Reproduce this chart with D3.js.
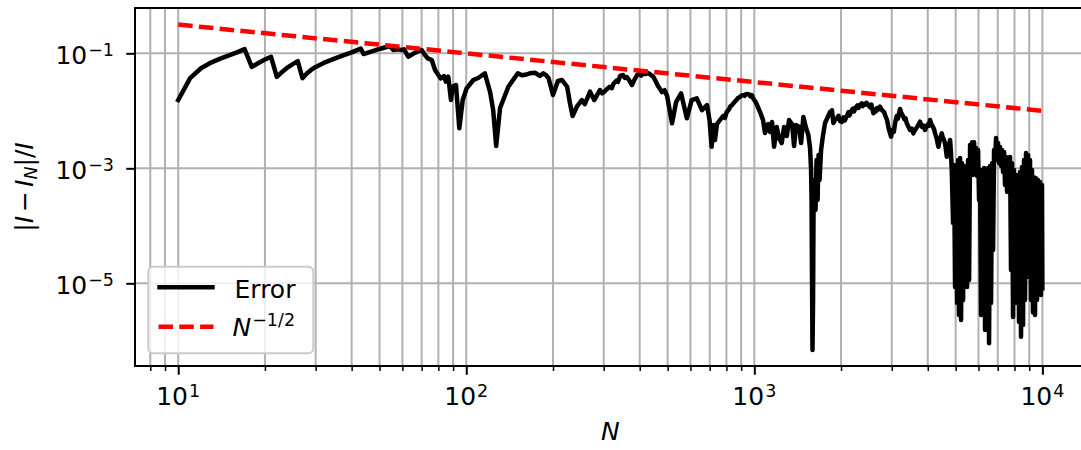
<!DOCTYPE html>
<html><head><meta charset="utf-8">
<script src="https://cdn.jsdelivr.net/npm/d3@7"></script>
<style>body{margin:0;background:#fff} svg{display:block} text{font-family:"DejaVu Sans",sans-serif}</style>
</head><body>
<script>
// ---- data (N, |I-I_N|/I) ----
const errorSeries = [
[10,0.0154],[11,0.037],[12,0.055],[13,0.069],[14,0.081],[15,0.092],[16,0.104],[17,0.118],[18,0.058],[19,0.068],[20,0.078],[21,0.087],[22,0.039],[23,0.048],[24,0.057],[25,0.065],[26,0.073],[27,0.037],[28,0.045],[29,0.052],[30,0.058],[32,0.068],[34,0.077],[36,0.086],[38,0.095],[40,0.104],[43,0.121],[44,0.097],[47,0.108],[50,0.119],[54.3,0.134],[55.8,0.114],[58,0.117],[59.7,0.114],[60.8,0.117],[62.9,0.0873],[66,0.101],[70,0.114],[71.9,0.0934],[73.5,0.0818],[75.9,0.0765],[77.9,0.0512],[80,0.0419],[81.5,0.0367],[83.7,0.0403],[85,0.0321],[86.6,0.0392],[88.5,0.0154],[89.7,0.0262],[92.1,0.0281],[94.6,0.00496],[97.2,0.0154],[100.3,0.0246],[105.8,0.0343],
[110,0.0372],[116,0.0449],[121,0.0212],[124,0.0103],[127,0.00244],[131,0.0112],[140,0.0262],[151,0.0449],[156,0.0415],[162,0.0428],[167,0.0452],[173,0.046],[177,0.0428],[180,0.0403],[185,0.0449],[189,0.0418],[193,0.0372],[200,0.0188],[208,0.033],[215,0.0343],[224,0.0262],[229,0.0137],[234,0.00812],[242,0.0118],[252,0.0154],[258,0.0131],[269,0.0215],[278,0.0154],[291,0.023],[296,0.0201],[301,0.0212],[308,0.0239],[315,0.0262],[320,0.0248],[324,0.0292],[332,0.0335],[336,0.0318],[342,0.0403],[350,0.0419],[355,0.0374],[361,0.0387],[368,0.0338],[376,0.0281],[384,0.0352],[392,0.0419],[400,0.0445],[405,0.041],[411,0.0454],[420,0.0436],[428,0.0454],[436,0.0425],[446,0.0392],[455,0.0323],[463,0.027],[470,0.0243],[478,0.0212],[488,0.0228],[498,0.0181],[518,0.00606],[535,0.0142],[557,0.0201],[583,0.0074],[606,0.0154],[631,0.0165],[658,0.0103],[685,0.0126],[699,0.00692],[711,0.00237],[722,0.00566],[730,0.00311],[742,0.00589],[760,0.00692],[780,0.0082],[790,0.0075],[802,0.00953],[815,0.0104],[825,0.0119],[835,0.0124],[846,0.0135],[860,0.0148],[870,0.0158],[878,0.0167],[890,0.0173],[900,0.0183],[916,0.0188],[925,0.0182],[935,0.0195],[943,0.0196],[960,0.0192],[970,0.0178],[980,0.0188],[995,0.0158],[1005,0.0149],
[1019,0.0131],[1047,0.00953],[1072,0.00692],[1089,0.00411],[1116,0.00589],[1134,0.00428],[1152,0.00639],[1171,0.00237],[1196,0.00523],[1218,0.00336],[1245,0.00275],[1268,0.00523],[1296,0.00365],[1320,0.00692],[1352,0.00589],[1374,0.00244],[1396,0.00566],[1430,0.00523],[1453,0.00275],[1480,0.0078],[1512,0.00502],[1540,0.00379],[1561,0.00225],[1574,0.000934],[1580,0.000281],[1586,1.14e-5],[1592,6.9e-7],[1599,5.1e-6],[1605,0.000167],[1618,0.000626],[1631,0.000188],[1644,0.00139],[1658,0.000281],[1671,0.0017],[1684,0.000626],[1705,0.00208],[1732,0.00379],[1760,0.00614],[1832,0.00953],[1850,0.0085],[1860,0.0102],[1881,0.00614],[1900,0.0068],[1938,0.0075],[1960,0.0082],[1985,0.0066],[2012,0.00639],[2040,0.0077],[2060,0.0068],[2094,0.00812],[2120,0.0094],[2140,0.0083],[2179,0.0103],[2200,0.0109],[2220,0.0098],[2255,0.01165],[2280,0.0124],[2300,0.0112],[2328,0.0126],[2360,0.0134],[2380,0.0121],[2404,0.0131],[2430,0.0128],[2450,0.0138],[2488,0.0126],[2520,0.0115],[2550,0.0128],[2590,0.00905],[2620,0.0104],[2640,0.0097],[2667,0.0112],[2700,0.0106],[2732,0.0118],[2770,0.0104],[2821,0.00953],[2850,0.0082],[2889,0.00692],[2930,0.0048],[2983,0.00355],[3020,0.0047],[3050,0.0043],[3080,0.00606],[3120,0.0081],[3150,0.0073],[3205,0.01075],[3240,0.0091],[3283,0.00812],[3320,0.0071],[3350,0.0074],[3382,0.00606],[3420,0.0054],[3472,0.00464],[3520,0.0049],[3565,0.00406],[3620,0.0047],[3672,0.00523],[3720,0.0058],[3761,0.00646],[3790,0.0057],[3822,0.00523],[3870,0.0055],[3914,0.00464],[3960,0.0053],[4010,0.00589],[4040,0.0055],[4075,0.00692],[4120,0.0058],[4174,0.00523],[4210,0.0047],[4241,0.00406],[4290,0.0034],[4355,0.00237],[4400,0.0031],[4474,0.00406],[4510,0.0034],[4557,0.00311],[4600,0.0026],[4657,0.00159],[4705,0.00208],[4740,0.0026],[4781,0.00311],[4815,0.0019],[4847,0.000873],
[4897,0.000112],[4936,0.00114],[4976,8.6e-6],[5016,0.00101],[5056,4.55e-6],[5097,0.00139],[5138,2.81e-6],[5179,0.00151],[5220,2.3e-6],[5262,0.00123],[5305,5.1e-6],[5347,0.0011],[5390,1.02e-5],[5433,0.00105],[5477,8.6e-6],[5521,0.00139],[5565,1.14e-5],[5610,0.00254],[5655,0.00086],[5700,0.00283],[5746,0.000765],[5792,0.00283],[5838,0.000934],[5885,0.00226],[5932,0.00074],[5980,0.00208],[6028,0.000281],[6076,0.000934],[6125,2.81e-6],[6174,0.00086],[6224,4.2e-6],[6274,0.00101],[6324,1.54e-6],[6375,0.000934],[6426,2.3e-6],[6477,0.00101],[6529,9.1e-7],[6582,0.0011],[6634,4.55e-6],[6688,0.00123],[6741,3.79e-5],[6795,0.00208],[6850,0.00139],[6905,0.00336],[6960,0.00151],[7016,0.00275],[7072,0.00123],[7129,0.00234],[7186,0.0011],[7244,0.00208],[7302,0.00086],[7360,0.00192],[7419,0.000512],[7479,0.00157],[7539,0.00039],[7599,0.00151],[7660,0.000626],[7722,0.00157],[7783,1.7e-5],[7846,0.00123],[7909,2.6e-6],[7972,0.000934],[8036,5.12e-6],[8100,0.000765],[8165,4.55e-6],[8231,0.0007],[8297,2.13e-6],[8363,0.00086],[8430,1.18e-6],[8498,0.00105],[8566,1.88e-6],[8635,0.00139],[8704,5.12e-6],[8774,0.00184],[8844,1.29e-5],[8915,0.0017],[8987,0.000512],[9059,0.00139],[9131,5.12e-6],[9204,0.000934],[9278,3.1e-6],[9353,0.0007],[9428,2.81e-6],[9504,0.00067],[9580,5.12e-6],[9657,0.000626],[9734,7.1e-6],[9812,0.00058],[9890,6.26e-6],[9970,0.000512],[10000,8.2e-6]
];
const refN = [10, 10000];
const refE = [0.316, 0.01];
const xMajorTicks = [10, 100, 1000, 10000];
const xTickExp = ["1", "2", "3", "4"];
const yMajorTicks = [1e-1, 1e-3, 1e-5];
const yTickExp = ["\u22121", "\u22123", "\u22125"];
const legendLabels = ["Error", "N"];

// ---- layout ----
const W = 1081, H = 450;
const L = 135, R = 1085.6, T = 8, B = 366;
const FS = 25, SUP = 17.5, LW = 4.5;

const svg = d3.select("body").append("svg").attr("width", W).attr("height", H);
svg.append("rect").attr("width", W).attr("height", H).attr("fill", "#fff");

const x = d3.scaleLog().domain([Math.pow(10, 0.85), Math.pow(10, 4.15)]).range([L, R]);
const y = d3.scaleLog().domain([Math.pow(10, -6.438), Math.pow(10, -0.212)]).range([B, T]);

const isMajor = v => xMajorTicks.includes(v);
const xMinorTicks = x.ticks().filter(v => !isMajor(v));

svg.append("defs").append("clipPath").attr("id", "clip")
  .append("rect").attr("x", L).attr("y", T).attr("width", R - L).attr("height", B - T);

// grid
const grid = svg.append("g");
grid.selectAll("line.vx").data(xMajorTicks.concat(xMinorTicks)).join("line")
  .attr("x1", d => x(d)).attr("x2", d => x(d)).attr("y1", T).attr("y2", B)
  .attr("stroke", "#b0b0b0").attr("stroke-width", 2);
grid.selectAll("line.hy").data(yMajorTicks).join("line")
  .attr("x1", L).attr("x2", R).attr("y1", d => y(d)).attr("y2", d => y(d))
  .attr("stroke", "#b0b0b0").attr("stroke-width", 2);

// data lines
const plot = svg.append("g").attr("clip-path", "url(#clip)");
const line = d3.line().x(d => x(d[0])).y(d => y(d[1]));
plot.append("path").datum(errorSeries).attr("d", line)
  .attr("fill", "none").attr("stroke", "#000").attr("stroke-width", LW)
  .attr("stroke-linejoin", "round").attr("stroke-linecap", "square");
plot.append("path").datum(refN.map((n, i) => [n, refE[i]])).attr("d", line)
  .attr("fill", "none").attr("stroke", "#ff0000").attr("stroke-width", LW)
  .attr("stroke-dasharray", "14.5,6.3").attr("stroke-linecap", "butt");

// axes ticks
const gx = svg.append("g").attr("transform", `translate(0,${B})`)
  .call(d3.axisBottom(x).tickValues(xMajorTicks).tickSize(8.75).tickFormat(""));
gx.select(".domain").remove();
gx.selectAll(".tick line").attr("stroke", "#000").attr("stroke-width", 2);
const gxm = svg.append("g").attr("transform", `translate(0,${B})`)
  .call(d3.axisBottom(x).tickValues(xMinorTicks).tickSize(5).tickFormat(""));
gxm.select(".domain").remove();
gxm.selectAll(".tick line").attr("stroke", "#000").attr("stroke-width", 1.5);
const gy = svg.append("g").attr("transform", `translate(${L},0)`)
  .call(d3.axisLeft(y).tickValues(yMajorTicks).tickSize(8.75).tickFormat(""));
gy.select(".domain").remove();
gy.selectAll(".tick line").attr("stroke", "#000").attr("stroke-width", 2);

// tick labels
xMajorTicks.forEach((v, i) => {
  const t = svg.append("text").attr("x", x(v)).attr("y", 405)
    .attr("text-anchor", "middle").attr("font-size", FS).attr("fill", "#000");
  t.append("tspan").text("10");
  t.append("tspan").attr("font-size", SUP).attr("dy", -8.5).attr("dx", 1).text(xTickExp[i]);
});
yMajorTicks.forEach((v, i) => {
  const t = svg.append("text").attr("x", 114).attr("y", y(v) + 10.7)
    .attr("text-anchor", "end").attr("font-size", FS).attr("fill", "#000");
  t.append("tspan").text("10");
  t.append("tspan").attr("font-size", SUP).attr("dy", -8.5).attr("dx", 1).text(yTickExp[i]);
});

// spines
svg.append("rect").attr("x", L).attr("y", T).attr("width", R - L).attr("height", B - T)
  .attr("fill", "none").attr("stroke", "#000").attr("stroke-width", 2);

// axis labels
svg.append("text").attr("x", (L + R) / 2).attr("y", 440).attr("text-anchor", "middle")
  .attr("font-size", FS).attr("font-style", "italic").text("N");
const yl = svg.append("text").attr("transform", `translate(32.5,${(T + B) / 2}) rotate(-90)`)
  .attr("text-anchor", "middle").attr("font-size", FS);
yl.append("tspan").text("|");
yl.append("tspan").attr("font-style", "italic").text("I");
yl.append("tspan").attr("dx", 4).text("\u2212");
yl.append("tspan").attr("dx", 4).attr("font-style", "italic").text("I");
yl.append("tspan").attr("font-style", "italic").attr("font-size", SUP).attr("dy", 4).text("N");
yl.append("tspan").attr("dy", -4).text("|/");
yl.append("tspan").attr("font-style", "italic").text("I");

// legend
const lg = svg.append("g");
lg.append("rect").attr("x", 148.3).attr("y", 266.7).attr("width", 165).attr("height", 86.6)
  .attr("rx", 5).attr("fill", "#fff").attr("fill-opacity", 0.8)
  .attr("stroke", "#cccccc").attr("stroke-width", 2);
lg.append("line").attr("x1", 159.5).attr("x2", 212.5).attr("y1", 287.3).attr("y2", 287.3)
  .attr("stroke", "#000").attr("stroke-width", LW).attr("stroke-linecap", "square");
lg.append("line").attr("x1", 158.5).attr("x2", 213.5).attr("y1", 326.7).attr("y2", 326.7)
  .attr("stroke", "#ff0000").attr("stroke-width", LW).attr("stroke-dasharray", "14.5,6.3");
lg.append("text").attr("x", 234.5).attr("y", 297.5).attr("font-size", FS).text(legendLabels[0]);
const lt = lg.append("text").attr("x", 232.5).attr("y", 335.5).attr("font-size", FS);
lt.append("tspan").attr("font-style", "italic").text(legendLabels[1]);
lt.append("tspan").attr("font-size", SUP).attr("dy", -10).attr("dx", 1).text("\u22121/2");
</script>
</body></html>
